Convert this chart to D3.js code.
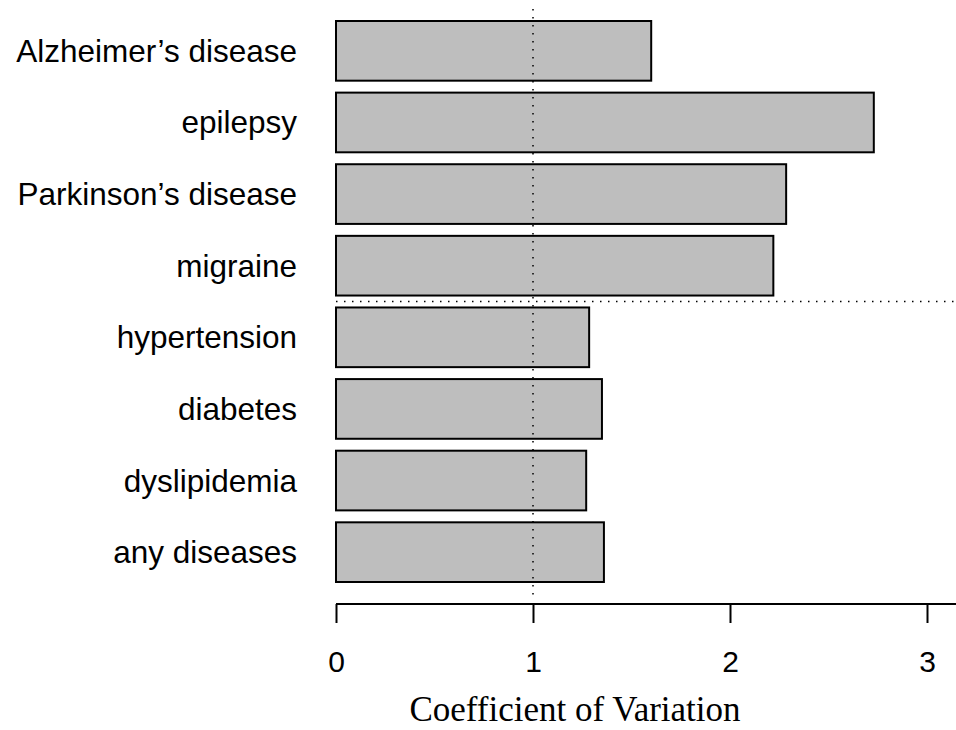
<!DOCTYPE html>
<html>
<head>
<meta charset="utf-8">
<script src="https://cdn.jsdelivr.net/npm/d3@7"></script>
<style>
  body { margin: 0; background: #fff; }
</style>
</head>
<body>
<script>
// data
var diseases = ["Alzheimer\u2019s disease", "epilepsy", "Parkinson\u2019s disease", "migraine",
                "hypertension", "diabetes", "dyslipidemia", "any diseases"];
var cvValues = [1.60, 2.73, 2.285, 2.22, 1.285, 1.35, 1.27, 1.36];
var xTicks = [0, 1, 2, 3];

var w = 956, h = 730;

var svg = d3.select("body").append("svg")
  .attr("width", w)
  .attr("height", h);

var x = d3.scaleLinear().domain([0, 3]).range([336, 927]);
var y = d3.scaleBand().domain(diseases).range([21, 582])
  .paddingInner(0.2 / 1.2).paddingOuter(0);

// bars
svg.selectAll("rect.bar")
  .data(diseases)
  .enter().append("rect")
  .attr("class", "bar")
  .attr("x", x(0))
  .attr("y", function(d) { return y(d); })
  .attr("width", function(d, i) { return x(cvValues[i]) - x(0); })
  .attr("height", y.bandwidth())
  .attr("fill", "#bebebe")
  .attr("stroke", "#000")
  .attr("stroke-width", 2);

// category labels
svg.selectAll("text.cat")
  .data(diseases)
  .enter().append("text")
  .attr("class", "cat")
  .attr("x", 297)
  .attr("y", function(d) { return y(d) + y.bandwidth() / 2; })
  .attr("dy", "0.35em")
  .attr("text-anchor", "end")
  .style("font-family", "'Liberation Sans', Arial, sans-serif")
  .style("font-size", "31.5px")
  .text(function(d) { return d; });

// reference line at cv = 1
svg.append("line")
  .attr("x1", x(1)).attr("x2", x(1))
  .attr("y1", 9).attr("y2", 598)
  .attr("stroke", "#000")
  .attr("stroke-width", 1.5)
  .attr("stroke-dasharray", "1.5,6.5");

// separator between the neuro diseases and the rest
var sepY = y("migraine") + y.bandwidth() + (y.step() - y.bandwidth()) / 2;
svg.append("line")
  .attr("x1", x(0)).attr("x2", w)
  .attr("y1", sepY).attr("y2", sepY)
  .attr("stroke", "#000")
  .attr("stroke-width", 1.5)
  .attr("stroke-dasharray", "1.5,6.5");

// x axis
var xAxis = d3.axisBottom(x).tickValues(xTicks).tickSize(19).tickPadding(28)
  .tickFormat(d3.format("d"));
var axisG = svg.append("g")
  .attr("transform", "translate(0,604)")
  .call(xAxis);
axisG.select(".domain").remove();
axisG.append("line")
  .attr("x1", x(0)).attr("x2", w)
  .attr("y1", 0).attr("y2", 0)
  .attr("stroke", "#000")
  .attr("stroke-width", 2);
axisG.selectAll(".tick line").attr("stroke-width", 2);
axisG.selectAll(".tick text")
  .style("font-family", "'Liberation Sans', Arial, sans-serif")
  .style("font-size", "30px")
  .attr("fill", "#000");

// axis title
svg.append("text")
  .attr("x", 575)
  .attr("y", 721)
  .attr("text-anchor", "middle")
  .style("font-family", "'Liberation Serif', 'Times New Roman', serif")
  .style("font-size", "35px")
  .text("Coefficient of Variation");
</script>
</body>
</html>
